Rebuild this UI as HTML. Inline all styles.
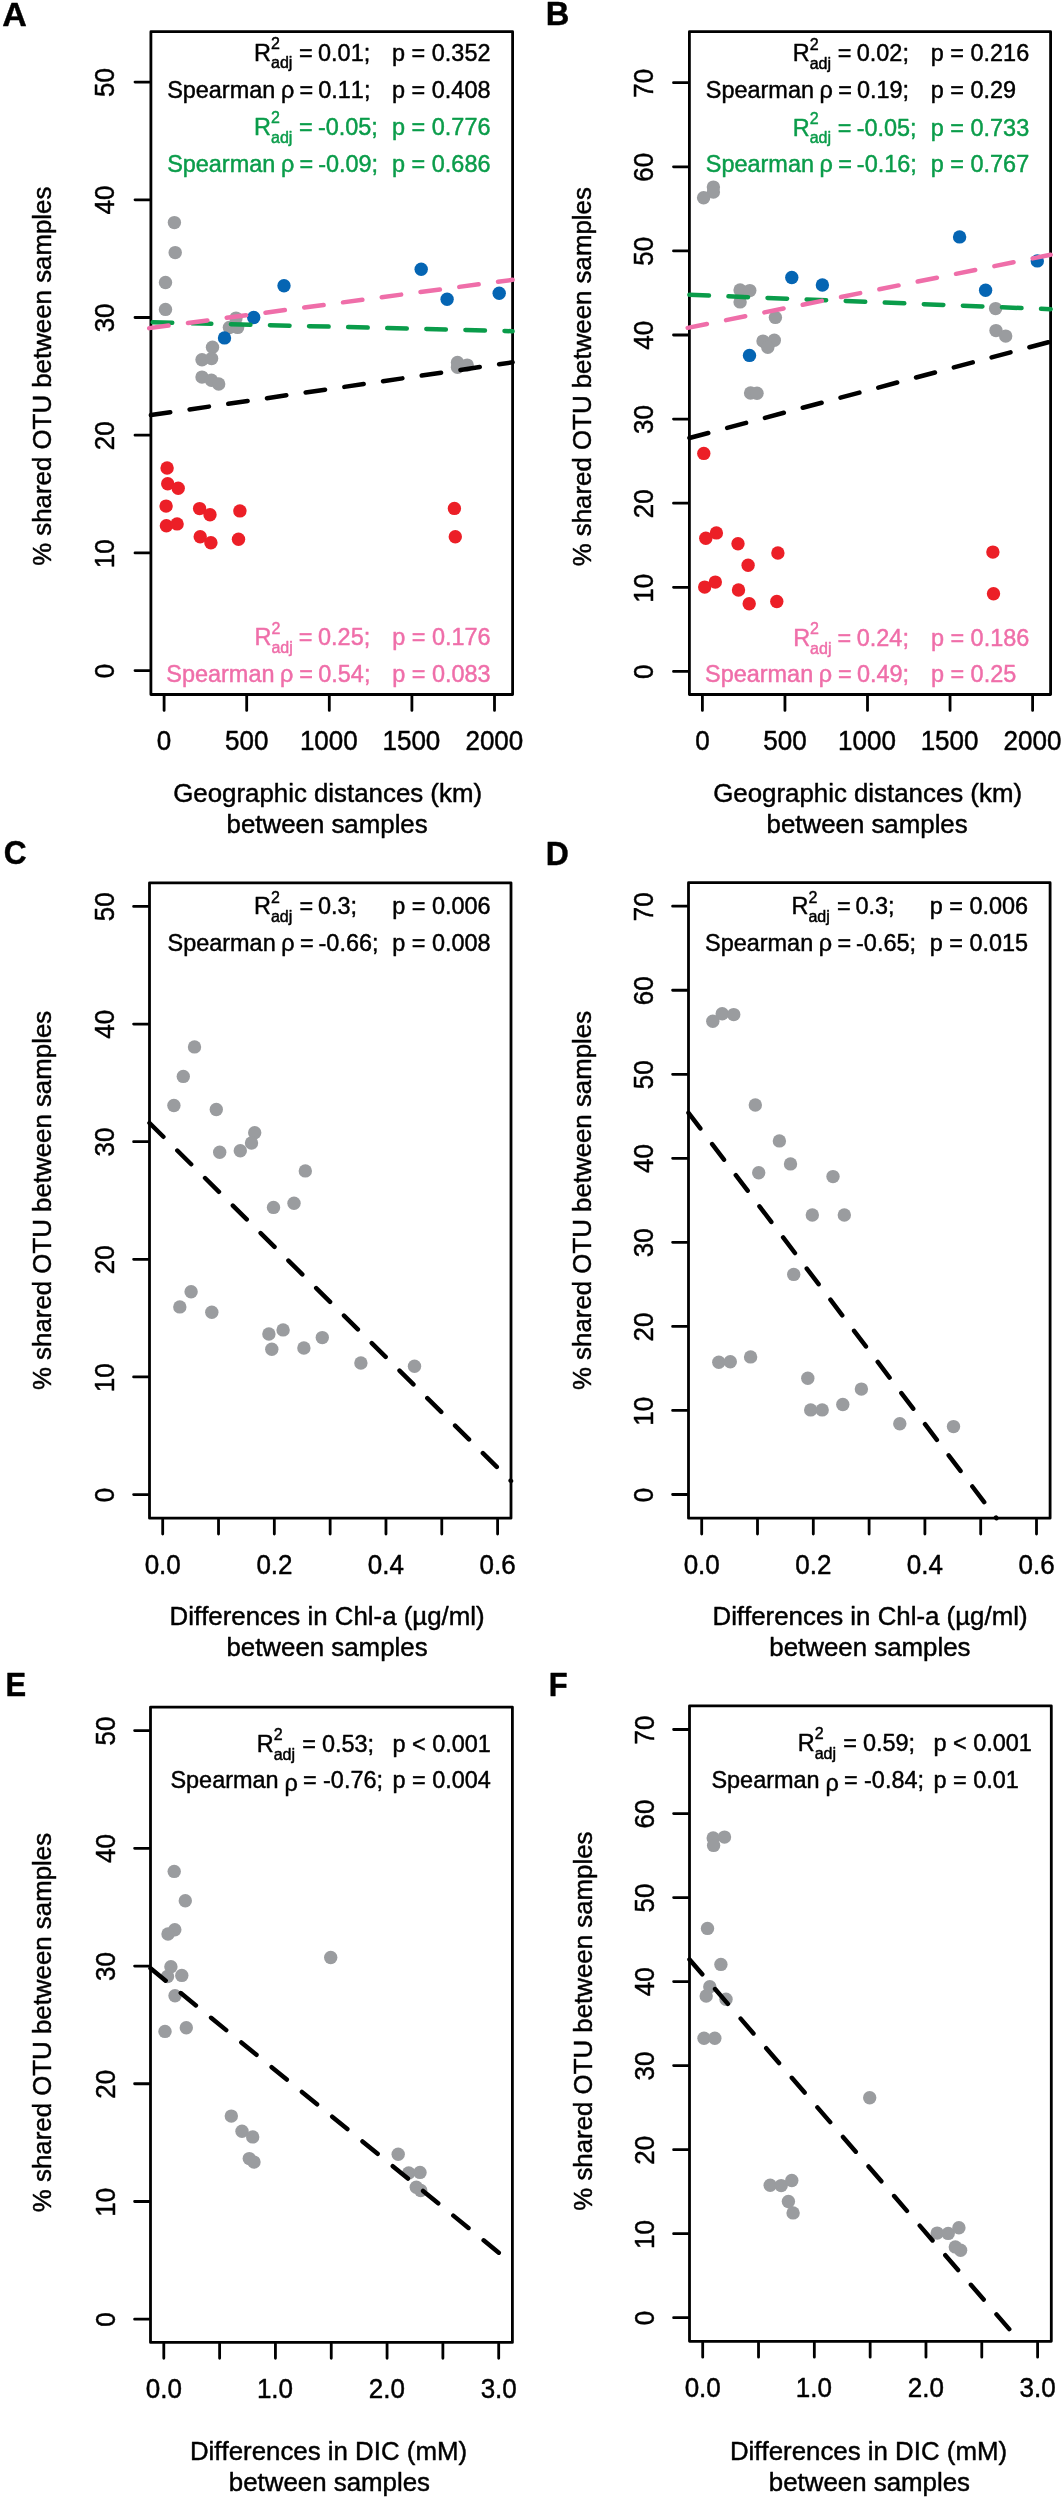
<!DOCTYPE html><html><head><meta charset="utf-8"><style>html,body{margin:0;padding:0;background:#fff;}svg{display:block;will-change:transform;} text{font-family:"Liberation Sans", sans-serif;font-kerning:none;stroke-width:0.45px;stroke-linejoin:round;}</style></head><body>
<svg width="1064" height="2500" viewBox="0 0 1064 2500">
<rect width="1064" height="2500" fill="#fff"/>
<rect x="150.9" y="31.7" width="361.7" height="662.8" fill="none" stroke="#000" stroke-width="2.8" stroke-linejoin="round"/>
<circle cx="174.4" cy="222.6" r="6.7" fill="#9a9c9f"/>
<circle cx="175.2" cy="252.6" r="6.7" fill="#9a9c9f"/>
<circle cx="165.5" cy="282.5" r="6.7" fill="#9a9c9f"/>
<circle cx="165.5" cy="309.4" r="6.7" fill="#9a9c9f"/>
<circle cx="236" cy="318.1" r="6.7" fill="#9a9c9f"/>
<circle cx="229.4" cy="327.5" r="6.7" fill="#9a9c9f"/>
<circle cx="237.6" cy="327.4" r="6.7" fill="#9a9c9f"/>
<circle cx="212.5" cy="347.3" r="6.7" fill="#9a9c9f"/>
<circle cx="202" cy="359.7" r="6.7" fill="#9a9c9f"/>
<circle cx="211.6" cy="358.6" r="6.7" fill="#9a9c9f"/>
<circle cx="202" cy="377.1" r="6.7" fill="#9a9c9f"/>
<circle cx="211.4" cy="380.2" r="6.7" fill="#9a9c9f"/>
<circle cx="218.7" cy="384" r="6.7" fill="#9a9c9f"/>
<circle cx="457.5" cy="362.5" r="6.7" fill="#9a9c9f"/>
<circle cx="457.5" cy="367.2" r="6.7" fill="#9a9c9f"/>
<circle cx="467.2" cy="365.1" r="6.7" fill="#9a9c9f"/>
<circle cx="224.5" cy="337.9" r="6.7" fill="#0565b3"/>
<circle cx="253.7" cy="317.5" r="6.7" fill="#0565b3"/>
<circle cx="284" cy="285.8" r="6.7" fill="#0565b3"/>
<circle cx="421.2" cy="269.3" r="6.7" fill="#0565b3"/>
<circle cx="447.1" cy="299.3" r="6.7" fill="#0565b3"/>
<circle cx="499.2" cy="293.2" r="6.7" fill="#0565b3"/>
<circle cx="167.1" cy="468" r="6.7" fill="#ec1f27"/>
<circle cx="167.7" cy="483.8" r="6.7" fill="#ec1f27"/>
<circle cx="178.2" cy="488.3" r="6.7" fill="#ec1f27"/>
<circle cx="166.1" cy="506.1" r="6.7" fill="#ec1f27"/>
<circle cx="166.4" cy="525.8" r="6.7" fill="#ec1f27"/>
<circle cx="177.1" cy="523.9" r="6.7" fill="#ec1f27"/>
<circle cx="199.6" cy="508.6" r="6.7" fill="#ec1f27"/>
<circle cx="210" cy="514.8" r="6.7" fill="#ec1f27"/>
<circle cx="239.9" cy="510.9" r="6.7" fill="#ec1f27"/>
<circle cx="200.2" cy="536.8" r="6.7" fill="#ec1f27"/>
<circle cx="210.9" cy="542.7" r="6.7" fill="#ec1f27"/>
<circle cx="238.5" cy="539.3" r="6.7" fill="#ec1f27"/>
<circle cx="454.4" cy="508.4" r="6.7" fill="#ec1f27"/>
<circle cx="455.3" cy="536.8" r="6.7" fill="#ec1f27"/>
<path d="M150.9 415.1L512.6 362.3" stroke="#000000" stroke-width="4.5" stroke-linecap="round" stroke-dasharray="19.55 19.55" fill="none"/>
<path d="M152.7 322.24L512.6 331.2" stroke="#0a9c4a" stroke-width="4.5" stroke-linecap="round" stroke-dasharray="19.55 19.55" fill="none"/>
<path d="M149.2 328.13L512.6 279.8" stroke="#ef6ea9" stroke-width="4.5" stroke-linecap="round" stroke-dasharray="19.55 19.55" fill="none"/>
<path d="M164.1 695.9V710.4M246.7 695.9V710.4M329.3 695.9V710.4M411.9 695.9V710.4M494.5 695.9V710.4" stroke="#000" stroke-width="2.8" stroke-linecap="round" fill="none"/>
<text transform="translate(156.87 750) scale(1 1.04)" font-size="26" fill="#000" stroke="#000">0</text>
<text transform="translate(225 750) scale(1 1.04)" font-size="26" fill="#000" stroke="#000">500</text>
<text transform="translate(299.9 750) scale(1 1.04)" font-size="26" fill="#000" stroke="#000">1000</text>
<text transform="translate(382.5 750) scale(1 1.04)" font-size="26" fill="#000" stroke="#000">1500</text>
<text transform="translate(465.43 750) scale(1 1.04)" font-size="26" fill="#000" stroke="#000">2000</text>
<path d="M149.5 670.6H135M149.5 552.9H135M149.5 435.2H135M149.5 317.5H135M149.5 199.8H135M149.5 82.1H135" stroke="#000" stroke-width="2.8" stroke-linecap="round" fill="none"/>
<text x="-7.23" y="0" transform="translate(114.4 671) rotate(-90) scale(1 1.04)" font-size="26" fill="#000" stroke="#000">0</text>
<text x="-14.94" y="0" transform="translate(114.4 553.3) rotate(-90) scale(1 1.04)" font-size="26" fill="#000" stroke="#000">10</text>
<text x="-14.61" y="0" transform="translate(114.4 435.6) rotate(-90) scale(1 1.04)" font-size="26" fill="#000" stroke="#000">20</text>
<text x="-14.45" y="0" transform="translate(114.4 317.9) rotate(-90) scale(1 1.04)" font-size="26" fill="#000" stroke="#000">30</text>
<text x="-14.25" y="0" transform="translate(114.4 200.2) rotate(-90) scale(1 1.04)" font-size="26" fill="#000" stroke="#000">40</text>
<text x="-14.47" y="0" transform="translate(114.4 82.5) rotate(-90) scale(1 1.04)" font-size="26" fill="#000" stroke="#000">50</text>
<text x="173.21" y="801.8" font-size="25.85" fill="#000" stroke="#000">Geographic distances (km)</text>
<text x="226.55" y="832.5" font-size="25.85" fill="#000" stroke="#000">between samples</text>
<text x="-138.35" y="376.2" font-size="25.85" fill="#000" stroke="#000" transform="rotate(-90 51.3 376.2)">% shared OTU between samples</text>
<text x="254.08" y="60.6" font-size="23.45" fill="#000000" stroke="#000000">R</text>
<text x="271" y="48.9" font-size="16" fill="#000000" stroke="#000000">2</text>
<text x="271" y="68.4" font-size="16" fill="#000000" stroke="#000000">adj</text>
<text x="299.05" y="60.6" font-size="23.45" fill="#000000" stroke="#000000">=</text>
<text x="318.08" y="60.6" font-size="23.45" fill="#000000" stroke="#000000">0.01;</text>
<text x="392.09" y="60.6" font-size="23.45" fill="#000000" stroke="#000000">p = 0.352</text>
<text x="167.14" y="97.5" font-size="23.45" fill="#000000" stroke="#000000">Spearman</text>
<text x="280.89" y="97.5" font-size="23.45" fill="#000000" stroke="#000000">ρ</text>
<text x="299.45" y="97.5" font-size="23.45" fill="#000000" stroke="#000000">=</text>
<text x="318.28" y="97.5" font-size="23.45" fill="#000000" stroke="#000000">0.11;</text>
<text x="392.09" y="97.5" font-size="23.45" fill="#000000" stroke="#000000">p = 0.408</text>
<text x="254.08" y="135" font-size="23.45" fill="#0a9c4a" stroke="#0a9c4a">R</text>
<text x="271" y="123.3" font-size="16" fill="#0a9c4a" stroke="#0a9c4a">2</text>
<text x="271" y="142.8" font-size="16" fill="#0a9c4a" stroke="#0a9c4a">adj</text>
<text x="299.05" y="135" font-size="23.45" fill="#0a9c4a" stroke="#0a9c4a">=</text>
<text x="317.96" y="135" font-size="23.45" fill="#0a9c4a" stroke="#0a9c4a">-0.05;</text>
<text x="392.09" y="135" font-size="23.45" fill="#0a9c4a" stroke="#0a9c4a">p = 0.776</text>
<text x="167.14" y="171.6" font-size="23.45" fill="#0a9c4a" stroke="#0a9c4a">Spearman</text>
<text x="280.89" y="171.6" font-size="23.45" fill="#0a9c4a" stroke="#0a9c4a">ρ</text>
<text x="299.45" y="171.6" font-size="23.45" fill="#0a9c4a" stroke="#0a9c4a">=</text>
<text x="318.16" y="171.6" font-size="23.45" fill="#0a9c4a" stroke="#0a9c4a">-0.09;</text>
<text x="392.09" y="171.6" font-size="23.45" fill="#0a9c4a" stroke="#0a9c4a">p = 0.686</text>
<text x="254.48" y="645.2" font-size="23.45" fill="#ef6ea9" stroke="#ef6ea9">R</text>
<text x="271.4" y="633.5" font-size="16" fill="#ef6ea9" stroke="#ef6ea9">2</text>
<text x="271.4" y="653" font-size="16" fill="#ef6ea9" stroke="#ef6ea9">adj</text>
<text x="298.85" y="645.2" font-size="23.45" fill="#ef6ea9" stroke="#ef6ea9">=</text>
<text x="318.08" y="645.2" font-size="23.45" fill="#ef6ea9" stroke="#ef6ea9">0.25;</text>
<text x="392.19" y="645.2" font-size="23.45" fill="#ef6ea9" stroke="#ef6ea9">p = 0.176</text>
<text x="166.34" y="681.8" font-size="23.45" fill="#ef6ea9" stroke="#ef6ea9">Spearman</text>
<text x="280.09" y="681.8" font-size="23.45" fill="#ef6ea9" stroke="#ef6ea9">ρ</text>
<text x="299.25" y="681.8" font-size="23.45" fill="#ef6ea9" stroke="#ef6ea9">=</text>
<text x="318.28" y="681.8" font-size="23.45" fill="#ef6ea9" stroke="#ef6ea9">0.54;</text>
<text x="392.19" y="681.8" font-size="23.45" fill="#ef6ea9" stroke="#ef6ea9">p = 0.083</text>
<text x="-0.85" y="0" transform="translate(3.1 25.9) scale(1 1)" font-size="34" font-weight="bold" fill="#000" stroke="#000">A</text>
<rect x="689.4" y="31.7" width="361.2" height="662.8" fill="none" stroke="#000" stroke-width="2.8" stroke-linejoin="round"/>
<circle cx="713.4" cy="187.1" r="6.7" fill="#9a9c9f"/>
<circle cx="713.4" cy="192.1" r="6.7" fill="#9a9c9f"/>
<circle cx="703.6" cy="197.8" r="6.7" fill="#9a9c9f"/>
<circle cx="740.1" cy="290" r="6.7" fill="#9a9c9f"/>
<circle cx="749.8" cy="290.6" r="6.7" fill="#9a9c9f"/>
<circle cx="740.1" cy="301.9" r="6.7" fill="#9a9c9f"/>
<circle cx="775.4" cy="317.4" r="6.7" fill="#9a9c9f"/>
<circle cx="763" cy="341.1" r="6.7" fill="#9a9c9f"/>
<circle cx="774.3" cy="340.2" r="6.7" fill="#9a9c9f"/>
<circle cx="767.8" cy="347.2" r="6.7" fill="#9a9c9f"/>
<circle cx="750.6" cy="393" r="6.7" fill="#9a9c9f"/>
<circle cx="757" cy="393.3" r="6.7" fill="#9a9c9f"/>
<circle cx="995.6" cy="308.6" r="6.7" fill="#9a9c9f"/>
<circle cx="996" cy="330.6" r="6.7" fill="#9a9c9f"/>
<circle cx="1005.7" cy="336.1" r="6.7" fill="#9a9c9f"/>
<circle cx="749.5" cy="355.4" r="6.7" fill="#0565b3"/>
<circle cx="791.8" cy="277.5" r="6.7" fill="#0565b3"/>
<circle cx="822.4" cy="285" r="6.7" fill="#0565b3"/>
<circle cx="959.6" cy="236.9" r="6.7" fill="#0565b3"/>
<circle cx="985.6" cy="290.3" r="6.7" fill="#0565b3"/>
<circle cx="1037.3" cy="260.9" r="6.7" fill="#0565b3"/>
<circle cx="703.8" cy="453.4" r="6.7" fill="#ec1f27"/>
<circle cx="705.8" cy="538.3" r="6.7" fill="#ec1f27"/>
<circle cx="716.4" cy="532.9" r="6.7" fill="#ec1f27"/>
<circle cx="738" cy="543.8" r="6.7" fill="#ec1f27"/>
<circle cx="777.9" cy="553" r="6.7" fill="#ec1f27"/>
<circle cx="748.1" cy="565.2" r="6.7" fill="#ec1f27"/>
<circle cx="704.7" cy="587.1" r="6.7" fill="#ec1f27"/>
<circle cx="715.3" cy="582.1" r="6.7" fill="#ec1f27"/>
<circle cx="738.5" cy="590" r="6.7" fill="#ec1f27"/>
<circle cx="749.2" cy="603.8" r="6.7" fill="#ec1f27"/>
<circle cx="776.8" cy="601.5" r="6.7" fill="#ec1f27"/>
<circle cx="992.9" cy="552.1" r="6.7" fill="#ec1f27"/>
<circle cx="993.5" cy="593.8" r="6.7" fill="#ec1f27"/>
<path d="M689.4 438L1050.6 341.6" stroke="#000000" stroke-width="4.5" stroke-linecap="round" stroke-dasharray="19.55 19.55" fill="none"/>
<path d="M689.4 294.8L1050.6 309.2" stroke="#0a9c4a" stroke-width="4.5" stroke-linecap="round" stroke-dasharray="19.55 19.55" fill="none"/>
<path d="M687.7 327.84L1050.6 254.8" stroke="#ef6ea9" stroke-width="4.5" stroke-linecap="round" stroke-dasharray="19.55 19.55" fill="none"/>
<path d="M702.4 695.9V710.4M784.95 695.9V710.4M867.5 695.9V710.4M950.05 695.9V710.4M1032.6 695.9V710.4" stroke="#000" stroke-width="2.8" stroke-linecap="round" fill="none"/>
<text transform="translate(695.17 750) scale(1 1.04)" font-size="26" fill="#000" stroke="#000">0</text>
<text transform="translate(763.25 750) scale(1 1.04)" font-size="26" fill="#000" stroke="#000">500</text>
<text transform="translate(838.1 750) scale(1 1.04)" font-size="26" fill="#000" stroke="#000">1000</text>
<text transform="translate(920.65 750) scale(1 1.04)" font-size="26" fill="#000" stroke="#000">1500</text>
<text transform="translate(1003.53 750) scale(1 1.04)" font-size="26" fill="#000" stroke="#000">2000</text>
<path d="M688 671.4H673.5M688 587.3H673.5M688 503.2H673.5M688 419.1H673.5M688 335H673.5M688 250.9H673.5M688 166.8H673.5M688 82.7H673.5" stroke="#000" stroke-width="2.8" stroke-linecap="round" fill="none"/>
<text x="-7.23" y="0" transform="translate(653.1 671.8) rotate(-90) scale(1 1.04)" font-size="26" fill="#000" stroke="#000">0</text>
<text x="-14.94" y="0" transform="translate(653.1 587.7) rotate(-90) scale(1 1.04)" font-size="26" fill="#000" stroke="#000">10</text>
<text x="-14.61" y="0" transform="translate(653.1 503.6) rotate(-90) scale(1 1.04)" font-size="26" fill="#000" stroke="#000">20</text>
<text x="-14.45" y="0" transform="translate(653.1 419.5) rotate(-90) scale(1 1.04)" font-size="26" fill="#000" stroke="#000">30</text>
<text x="-14.25" y="0" transform="translate(653.1 335.4) rotate(-90) scale(1 1.04)" font-size="26" fill="#000" stroke="#000">40</text>
<text x="-14.47" y="0" transform="translate(653.1 251.3) rotate(-90) scale(1 1.04)" font-size="26" fill="#000" stroke="#000">50</text>
<text x="-14.61" y="0" transform="translate(653.1 167.2) rotate(-90) scale(1 1.04)" font-size="26" fill="#000" stroke="#000">60</text>
<text x="-14.62" y="0" transform="translate(653.1 83.1) rotate(-90) scale(1 1.04)" font-size="26" fill="#000" stroke="#000">70</text>
<text x="713.21" y="801.8" font-size="25.85" fill="#000" stroke="#000">Geographic distances (km)</text>
<text x="766.55" y="832.5" font-size="25.85" fill="#000" stroke="#000">between samples</text>
<text x="401.65" y="376.7" font-size="25.85" fill="#000" stroke="#000" transform="rotate(-90 591.3 376.7)">% shared OTU between samples</text>
<text x="792.78" y="61.2" font-size="23.45" fill="#000000" stroke="#000000">R</text>
<text x="809.7" y="49.5" font-size="16" fill="#000000" stroke="#000000">2</text>
<text x="809.7" y="69" font-size="16" fill="#000000" stroke="#000000">adj</text>
<text x="837.75" y="61.2" font-size="23.45" fill="#000000" stroke="#000000">=</text>
<text x="856.78" y="61.2" font-size="23.45" fill="#000000" stroke="#000000">0.02;</text>
<text x="930.79" y="61.2" font-size="23.45" fill="#000000" stroke="#000000">p = 0.216</text>
<text x="705.84" y="98.1" font-size="23.45" fill="#000000" stroke="#000000">Spearman</text>
<text x="819.59" y="98.1" font-size="23.45" fill="#000000" stroke="#000000">ρ</text>
<text x="838.15" y="98.1" font-size="23.45" fill="#000000" stroke="#000000">=</text>
<text x="856.98" y="98.1" font-size="23.45" fill="#000000" stroke="#000000">0.19;</text>
<text x="930.79" y="98.1" font-size="23.45" fill="#000000" stroke="#000000">p = 0.29</text>
<text x="792.78" y="135.6" font-size="23.45" fill="#0a9c4a" stroke="#0a9c4a">R</text>
<text x="809.7" y="123.9" font-size="16" fill="#0a9c4a" stroke="#0a9c4a">2</text>
<text x="809.7" y="143.4" font-size="16" fill="#0a9c4a" stroke="#0a9c4a">adj</text>
<text x="837.75" y="135.6" font-size="23.45" fill="#0a9c4a" stroke="#0a9c4a">=</text>
<text x="856.66" y="135.6" font-size="23.45" fill="#0a9c4a" stroke="#0a9c4a">-0.05;</text>
<text x="930.79" y="135.6" font-size="23.45" fill="#0a9c4a" stroke="#0a9c4a">p = 0.733</text>
<text x="705.84" y="172.2" font-size="23.45" fill="#0a9c4a" stroke="#0a9c4a">Spearman</text>
<text x="819.59" y="172.2" font-size="23.45" fill="#0a9c4a" stroke="#0a9c4a">ρ</text>
<text x="838.15" y="172.2" font-size="23.45" fill="#0a9c4a" stroke="#0a9c4a">=</text>
<text x="856.86" y="172.2" font-size="23.45" fill="#0a9c4a" stroke="#0a9c4a">-0.16;</text>
<text x="930.79" y="172.2" font-size="23.45" fill="#0a9c4a" stroke="#0a9c4a">p = 0.767</text>
<text x="793.18" y="645.8" font-size="23.45" fill="#ef6ea9" stroke="#ef6ea9">R</text>
<text x="810.1" y="634.1" font-size="16" fill="#ef6ea9" stroke="#ef6ea9">2</text>
<text x="810.1" y="653.6" font-size="16" fill="#ef6ea9" stroke="#ef6ea9">adj</text>
<text x="837.55" y="645.8" font-size="23.45" fill="#ef6ea9" stroke="#ef6ea9">=</text>
<text x="856.78" y="645.8" font-size="23.45" fill="#ef6ea9" stroke="#ef6ea9">0.24;</text>
<text x="930.89" y="645.8" font-size="23.45" fill="#ef6ea9" stroke="#ef6ea9">p = 0.186</text>
<text x="705.04" y="682.4" font-size="23.45" fill="#ef6ea9" stroke="#ef6ea9">Spearman</text>
<text x="818.79" y="682.4" font-size="23.45" fill="#ef6ea9" stroke="#ef6ea9">ρ</text>
<text x="837.95" y="682.4" font-size="23.45" fill="#ef6ea9" stroke="#ef6ea9">=</text>
<text x="856.98" y="682.4" font-size="23.45" fill="#ef6ea9" stroke="#ef6ea9">0.49;</text>
<text x="930.89" y="682.4" font-size="23.45" fill="#ef6ea9" stroke="#ef6ea9">p = 0.25</text>
<text x="-2.27" y="0" transform="translate(548 25.4) scale(0.96 1)" font-size="34" font-weight="bold" fill="#000" stroke="#000">B</text>
<rect x="149.5" y="882.8" width="361.5" height="635.4" fill="none" stroke="#000" stroke-width="2.8" stroke-linejoin="round"/>
<circle cx="194.5" cy="1046.9" r="6.7" fill="#9a9c9f"/>
<circle cx="183.3" cy="1076.4" r="6.7" fill="#9a9c9f"/>
<circle cx="173.9" cy="1105.5" r="6.7" fill="#9a9c9f"/>
<circle cx="216.3" cy="1109.5" r="6.7" fill="#9a9c9f"/>
<circle cx="254.7" cy="1132.7" r="6.7" fill="#9a9c9f"/>
<circle cx="251.5" cy="1143" r="6.7" fill="#9a9c9f"/>
<circle cx="219.7" cy="1152.3" r="6.7" fill="#9a9c9f"/>
<circle cx="240.3" cy="1150.8" r="6.7" fill="#9a9c9f"/>
<circle cx="305.3" cy="1170.9" r="6.7" fill="#9a9c9f"/>
<circle cx="273.5" cy="1207.4" r="6.7" fill="#9a9c9f"/>
<circle cx="294" cy="1203.3" r="6.7" fill="#9a9c9f"/>
<circle cx="191.1" cy="1291.7" r="6.7" fill="#9a9c9f"/>
<circle cx="179.8" cy="1306.9" r="6.7" fill="#9a9c9f"/>
<circle cx="211.8" cy="1312.3" r="6.7" fill="#9a9c9f"/>
<circle cx="268.9" cy="1334" r="6.7" fill="#9a9c9f"/>
<circle cx="283.1" cy="1329.9" r="6.7" fill="#9a9c9f"/>
<circle cx="271.8" cy="1349.2" r="6.7" fill="#9a9c9f"/>
<circle cx="303.9" cy="1348" r="6.7" fill="#9a9c9f"/>
<circle cx="322.3" cy="1337.6" r="6.7" fill="#9a9c9f"/>
<circle cx="360.9" cy="1363" r="6.7" fill="#9a9c9f"/>
<circle cx="414.5" cy="1366.2" r="6.7" fill="#9a9c9f"/>
<path d="M149.5 1123L511 1481" stroke="#000000" stroke-width="4.5" stroke-linecap="round" stroke-dasharray="19.55 19.55" fill="none"/>
<path d="M162.7 1519.6V1534.1M218.52 1519.6V1534.1M274.33 1519.6V1534.1M330.15 1519.6V1534.1M385.97 1519.6V1534.1M441.78 1519.6V1534.1M497.6 1519.6V1534.1" stroke="#000" stroke-width="2.8" stroke-linecap="round" fill="none"/>
<text transform="translate(144.63 1573.7) scale(1 1.04)" font-size="26" fill="#000" stroke="#000">0.0</text>
<text transform="translate(256.41 1573.7) scale(1 1.04)" font-size="26" fill="#000" stroke="#000">0.2</text>
<text transform="translate(367.77 1573.7) scale(1 1.04)" font-size="26" fill="#000" stroke="#000">0.4</text>
<text transform="translate(479.59 1573.7) scale(1 1.04)" font-size="26" fill="#000" stroke="#000">0.6</text>
<path d="M148.1 1494.6H133.6M148.1 1376.96H133.6M148.1 1259.32H133.6M148.1 1141.68H133.6M148.1 1024.04H133.6M148.1 906.4H133.6" stroke="#000" stroke-width="2.8" stroke-linecap="round" fill="none"/>
<text x="-7.23" y="0" transform="translate(113.5 1495) rotate(-90) scale(1 1.04)" font-size="26" fill="#000" stroke="#000">0</text>
<text x="-14.94" y="0" transform="translate(113.5 1377.36) rotate(-90) scale(1 1.04)" font-size="26" fill="#000" stroke="#000">10</text>
<text x="-14.61" y="0" transform="translate(113.5 1259.72) rotate(-90) scale(1 1.04)" font-size="26" fill="#000" stroke="#000">20</text>
<text x="-14.45" y="0" transform="translate(113.5 1142.08) rotate(-90) scale(1 1.04)" font-size="26" fill="#000" stroke="#000">30</text>
<text x="-14.25" y="0" transform="translate(113.5 1024.44) rotate(-90) scale(1 1.04)" font-size="26" fill="#000" stroke="#000">40</text>
<text x="-14.47" y="0" transform="translate(113.5 906.8) rotate(-90) scale(1 1.04)" font-size="26" fill="#000" stroke="#000">50</text>
<text x="169.58" y="1625.2" font-size="25.85" fill="#000" stroke="#000">Differences in Chl-a (µg/ml)</text>
<text x="226.45" y="1655.5" font-size="25.85" fill="#000" stroke="#000">between samples</text>
<text x="-138.35" y="1200.4" font-size="25.85" fill="#000" stroke="#000" transform="rotate(-90 51.3 1200.4)">% shared OTU between samples</text>
<text x="253.98" y="914.2" font-size="23.45" fill="#000000" stroke="#000000">R</text>
<text x="270.9" y="902.5" font-size="16" fill="#000000" stroke="#000000">2</text>
<text x="270.9" y="922" font-size="16" fill="#000000" stroke="#000000">adj</text>
<text x="299.45" y="914.2" font-size="23.45" fill="#000000" stroke="#000000">=</text>
<text x="317.88" y="914.2" font-size="23.45" fill="#000000" stroke="#000000">0.3;</text>
<text x="392.19" y="914.2" font-size="23.45" fill="#000000" stroke="#000000">p = 0.006</text>
<text x="167.54" y="950.6" font-size="23.45" fill="#000000" stroke="#000000">Spearman</text>
<text x="281.29" y="950.6" font-size="23.45" fill="#000000" stroke="#000000">ρ</text>
<text x="300.05" y="950.6" font-size="23.45" fill="#000000" stroke="#000000">=</text>
<text x="318.56" y="950.6" font-size="23.45" fill="#000000" stroke="#000000">-0.66;</text>
<text x="392.19" y="950.6" font-size="23.45" fill="#000000" stroke="#000000">p = 0.008</text>
<text x="-1.39" y="0" transform="translate(5.1 864.4) scale(0.93 1)" font-size="34" font-weight="bold" fill="#000" stroke="#000">C</text>
<rect x="688.5" y="882.7" width="361.6" height="635.5" fill="none" stroke="#000" stroke-width="2.8" stroke-linejoin="round"/>
<circle cx="712.8" cy="1021.2" r="6.7" fill="#9a9c9f"/>
<circle cx="722.2" cy="1013.7" r="6.7" fill="#9a9c9f"/>
<circle cx="733.7" cy="1014.6" r="6.7" fill="#9a9c9f"/>
<circle cx="755.3" cy="1105" r="6.7" fill="#9a9c9f"/>
<circle cx="779.4" cy="1140.9" r="6.7" fill="#9a9c9f"/>
<circle cx="790.5" cy="1163.9" r="6.7" fill="#9a9c9f"/>
<circle cx="758.7" cy="1172.7" r="6.7" fill="#9a9c9f"/>
<circle cx="833" cy="1176.6" r="6.7" fill="#9a9c9f"/>
<circle cx="812.3" cy="1215" r="6.7" fill="#9a9c9f"/>
<circle cx="844.3" cy="1215" r="6.7" fill="#9a9c9f"/>
<circle cx="793.7" cy="1274.4" r="6.7" fill="#9a9c9f"/>
<circle cx="718.8" cy="1362.2" r="6.7" fill="#9a9c9f"/>
<circle cx="730.3" cy="1361.7" r="6.7" fill="#9a9c9f"/>
<circle cx="750.6" cy="1356.9" r="6.7" fill="#9a9c9f"/>
<circle cx="807.8" cy="1378.2" r="6.7" fill="#9a9c9f"/>
<circle cx="810.7" cy="1409.9" r="6.7" fill="#9a9c9f"/>
<circle cx="822.2" cy="1409.9" r="6.7" fill="#9a9c9f"/>
<circle cx="842.8" cy="1404.5" r="6.7" fill="#9a9c9f"/>
<circle cx="861.4" cy="1389.1" r="6.7" fill="#9a9c9f"/>
<circle cx="899.8" cy="1423.7" r="6.7" fill="#9a9c9f"/>
<circle cx="953.5" cy="1426.6" r="6.7" fill="#9a9c9f"/>
<path d="M688.5 1112.9L996.43 1518.2" stroke="#000000" stroke-width="4.5" stroke-linecap="round" stroke-dasharray="19.55 19.55" fill="none"/>
<path d="M701.7 1519.6V1534.1M757.5 1519.6V1534.1M813.3 1519.6V1534.1M869.1 1519.6V1534.1M924.9 1519.6V1534.1M980.7 1519.6V1534.1M1036.5 1519.6V1534.1" stroke="#000" stroke-width="2.8" stroke-linecap="round" fill="none"/>
<text transform="translate(683.63 1573.7) scale(1 1.04)" font-size="26" fill="#000" stroke="#000">0.0</text>
<text transform="translate(795.37 1573.7) scale(1 1.04)" font-size="26" fill="#000" stroke="#000">0.2</text>
<text transform="translate(906.7 1573.7) scale(1 1.04)" font-size="26" fill="#000" stroke="#000">0.4</text>
<text transform="translate(1018.49 1573.7) scale(1 1.04)" font-size="26" fill="#000" stroke="#000">0.6</text>
<path d="M687.1 1494.5H672.6M687.1 1410.46H672.6M687.1 1326.41H672.6M687.1 1242.37H672.6M687.1 1158.33H672.6M687.1 1074.29H672.6M687.1 990.24H672.6M687.1 906.2H672.6" stroke="#000" stroke-width="2.8" stroke-linecap="round" fill="none"/>
<text x="-7.23" y="0" transform="translate(652.5 1494.9) rotate(-90) scale(1 1.04)" font-size="26" fill="#000" stroke="#000">0</text>
<text x="-14.94" y="0" transform="translate(652.5 1410.86) rotate(-90) scale(1 1.04)" font-size="26" fill="#000" stroke="#000">10</text>
<text x="-14.61" y="0" transform="translate(652.5 1326.81) rotate(-90) scale(1 1.04)" font-size="26" fill="#000" stroke="#000">20</text>
<text x="-14.45" y="0" transform="translate(652.5 1242.77) rotate(-90) scale(1 1.04)" font-size="26" fill="#000" stroke="#000">30</text>
<text x="-14.25" y="0" transform="translate(652.5 1158.73) rotate(-90) scale(1 1.04)" font-size="26" fill="#000" stroke="#000">40</text>
<text x="-14.47" y="0" transform="translate(652.5 1074.69) rotate(-90) scale(1 1.04)" font-size="26" fill="#000" stroke="#000">50</text>
<text x="-14.61" y="0" transform="translate(652.5 990.64) rotate(-90) scale(1 1.04)" font-size="26" fill="#000" stroke="#000">60</text>
<text x="-14.62" y="0" transform="translate(652.5 906.6) rotate(-90) scale(1 1.04)" font-size="26" fill="#000" stroke="#000">70</text>
<text x="712.48" y="1625.2" font-size="25.85" fill="#000" stroke="#000">Differences in Chl-a (µg/ml)</text>
<text x="769.35" y="1655.5" font-size="25.85" fill="#000" stroke="#000">between samples</text>
<text x="401.85" y="1200.4" font-size="25.85" fill="#000" stroke="#000" transform="rotate(-90 591.5 1200.4)">% shared OTU between samples</text>
<text x="791.48" y="914.2" font-size="23.45" fill="#000000" stroke="#000000">R</text>
<text x="808.4" y="902.5" font-size="16" fill="#000000" stroke="#000000">2</text>
<text x="808.4" y="922" font-size="16" fill="#000000" stroke="#000000">adj</text>
<text x="836.95" y="914.2" font-size="23.45" fill="#000000" stroke="#000000">=</text>
<text x="855.38" y="914.2" font-size="23.45" fill="#000000" stroke="#000000">0.3;</text>
<text x="929.69" y="914.2" font-size="23.45" fill="#000000" stroke="#000000">p = 0.006</text>
<text x="705.04" y="950.6" font-size="23.45" fill="#000000" stroke="#000000">Spearman</text>
<text x="818.79" y="950.6" font-size="23.45" fill="#000000" stroke="#000000">ρ</text>
<text x="837.55" y="950.6" font-size="23.45" fill="#000000" stroke="#000000">=</text>
<text x="856.06" y="950.6" font-size="23.45" fill="#000000" stroke="#000000">-0.65;</text>
<text x="929.69" y="950.6" font-size="23.45" fill="#000000" stroke="#000000">p = 0.015</text>
<text x="-2.27" y="0" transform="translate(547.9 864.5) scale(0.94 1)" font-size="34" font-weight="bold" fill="#000" stroke="#000">D</text>
<rect x="150.5" y="1707.1" width="361.9" height="635.3" fill="none" stroke="#000" stroke-width="2.8" stroke-linejoin="round"/>
<circle cx="174.2" cy="1871.4" r="6.7" fill="#9a9c9f"/>
<circle cx="185.3" cy="1900.8" r="6.7" fill="#9a9c9f"/>
<circle cx="174.8" cy="1929.8" r="6.7" fill="#9a9c9f"/>
<circle cx="168" cy="1934" r="6.7" fill="#9a9c9f"/>
<circle cx="170.9" cy="1966.8" r="6.7" fill="#9a9c9f"/>
<circle cx="167.5" cy="1976.5" r="6.7" fill="#9a9c9f"/>
<circle cx="181.8" cy="1975.4" r="6.7" fill="#9a9c9f"/>
<circle cx="175" cy="1995.7" r="6.7" fill="#9a9c9f"/>
<circle cx="165" cy="2031.4" r="6.7" fill="#9a9c9f"/>
<circle cx="186.3" cy="2027.8" r="6.7" fill="#9a9c9f"/>
<circle cx="330.7" cy="1957.5" r="6.7" fill="#9a9c9f"/>
<circle cx="231.3" cy="2116.1" r="6.7" fill="#9a9c9f"/>
<circle cx="242" cy="2131.2" r="6.7" fill="#9a9c9f"/>
<circle cx="252.7" cy="2136.9" r="6.7" fill="#9a9c9f"/>
<circle cx="249.3" cy="2158.6" r="6.7" fill="#9a9c9f"/>
<circle cx="254" cy="2162.1" r="6.7" fill="#9a9c9f"/>
<circle cx="398.2" cy="2154.3" r="6.7" fill="#9a9c9f"/>
<circle cx="408.7" cy="2172.9" r="6.7" fill="#9a9c9f"/>
<circle cx="420" cy="2172.4" r="6.7" fill="#9a9c9f"/>
<circle cx="416.3" cy="2187.2" r="6.7" fill="#9a9c9f"/>
<circle cx="420.7" cy="2190.5" r="6.7" fill="#9a9c9f"/>
<path d="M150.5 1968.3L512.4 2263.86" stroke="#000000" stroke-width="4.5" stroke-linecap="round" stroke-dasharray="19.55 19.55" fill="none"/>
<path d="M163.8 2343.8V2358.3M219.62 2343.8V2358.3M275.43 2343.8V2358.3M331.25 2343.8V2358.3M387.07 2343.8V2358.3M442.88 2343.8V2358.3M498.7 2343.8V2358.3" stroke="#000" stroke-width="2.8" stroke-linecap="round" fill="none"/>
<text transform="translate(145.73 2397.9) scale(1 1.04)" font-size="26" fill="#000" stroke="#000">0.0</text>
<text transform="translate(256.88 2397.9) scale(1 1.04)" font-size="26" fill="#000" stroke="#000">1.0</text>
<text transform="translate(368.85 2397.9) scale(1 1.04)" font-size="26" fill="#000" stroke="#000">2.0</text>
<text transform="translate(480.64 2397.9) scale(1 1.04)" font-size="26" fill="#000" stroke="#000">3.0</text>
<path d="M149.1 2319.2H134.6M149.1 2201.48H134.6M149.1 2083.76H134.6M149.1 1966.04H134.6M149.1 1848.32H134.6M149.1 1730.6H134.6" stroke="#000" stroke-width="2.8" stroke-linecap="round" fill="none"/>
<text x="-7.23" y="0" transform="translate(114.5 2319.6) rotate(-90) scale(1 1.04)" font-size="26" fill="#000" stroke="#000">0</text>
<text x="-14.94" y="0" transform="translate(114.5 2201.88) rotate(-90) scale(1 1.04)" font-size="26" fill="#000" stroke="#000">10</text>
<text x="-14.61" y="0" transform="translate(114.5 2084.16) rotate(-90) scale(1 1.04)" font-size="26" fill="#000" stroke="#000">20</text>
<text x="-14.45" y="0" transform="translate(114.5 1966.44) rotate(-90) scale(1 1.04)" font-size="26" fill="#000" stroke="#000">30</text>
<text x="-14.25" y="0" transform="translate(114.5 1848.72) rotate(-90) scale(1 1.04)" font-size="26" fill="#000" stroke="#000">40</text>
<text x="-14.47" y="0" transform="translate(114.5 1731) rotate(-90) scale(1 1.04)" font-size="26" fill="#000" stroke="#000">50</text>
<text x="189.94" y="2459.8" font-size="25.85" fill="#000" stroke="#000">Differences in DIC (mM)</text>
<text x="228.85" y="2490.7" font-size="25.85" fill="#000" stroke="#000">between samples</text>
<text x="-138.35" y="2022.5" font-size="25.85" fill="#000" stroke="#000" transform="rotate(-90 51.3 2022.5)">% shared OTU between samples</text>
<text x="256.78" y="1752" font-size="23.45" fill="#000000" stroke="#000000">R</text>
<text x="273.7" y="1740.3" font-size="16" fill="#000000" stroke="#000000">2</text>
<text x="273.7" y="1759.8" font-size="16" fill="#000000" stroke="#000000">adj</text>
<text x="302.25" y="1752" font-size="23.45" fill="#000000" stroke="#000000">=</text>
<text x="321.98" y="1752" font-size="23.45" fill="#000000" stroke="#000000">0.53;</text>
<text x="392.49" y="1752" font-size="23.45" fill="#000000" stroke="#000000">p &lt; 0.001</text>
<text x="170.44" y="1788.4" font-size="23.45" fill="#000000" stroke="#000000">Spearman</text>
<text x="284.39" y="1791" font-size="23.45" fill="#000000" stroke="#000000">ρ</text>
<text x="302.95" y="1788.4" font-size="23.45" fill="#000000" stroke="#000000">=</text>
<text x="323.06" y="1788.4" font-size="23.45" fill="#000000" stroke="#000000">-0.76;</text>
<text x="392.49" y="1788.4" font-size="23.45" fill="#000000" stroke="#000000">p = 0.004</text>
<text x="-2.27" y="0" transform="translate(7.6 1695.5) scale(0.91 1)" font-size="34" font-weight="bold" fill="#000" stroke="#000">E</text>
<rect x="689.5" y="1705.8" width="361.8" height="635.5" fill="none" stroke="#000" stroke-width="2.8" stroke-linejoin="round"/>
<circle cx="713.2" cy="1837.9" r="6.7" fill="#9a9c9f"/>
<circle cx="724.5" cy="1837.1" r="6.7" fill="#9a9c9f"/>
<circle cx="713.6" cy="1845.4" r="6.7" fill="#9a9c9f"/>
<circle cx="707.5" cy="1928.4" r="6.7" fill="#9a9c9f"/>
<circle cx="720.9" cy="1964.4" r="6.7" fill="#9a9c9f"/>
<circle cx="709.8" cy="1986.7" r="6.7" fill="#9a9c9f"/>
<circle cx="706.2" cy="1996" r="6.7" fill="#9a9c9f"/>
<circle cx="726" cy="1999.2" r="6.7" fill="#9a9c9f"/>
<circle cx="704" cy="2038.3" r="6.7" fill="#9a9c9f"/>
<circle cx="714.8" cy="2038.3" r="6.7" fill="#9a9c9f"/>
<circle cx="869.7" cy="2097.7" r="6.7" fill="#9a9c9f"/>
<circle cx="770.2" cy="2185.2" r="6.7" fill="#9a9c9f"/>
<circle cx="781.2" cy="2185.6" r="6.7" fill="#9a9c9f"/>
<circle cx="791.8" cy="2180.5" r="6.7" fill="#9a9c9f"/>
<circle cx="788.4" cy="2201.5" r="6.7" fill="#9a9c9f"/>
<circle cx="793.1" cy="2212.9" r="6.7" fill="#9a9c9f"/>
<circle cx="937.2" cy="2233.1" r="6.7" fill="#9a9c9f"/>
<circle cx="948.2" cy="2233.4" r="6.7" fill="#9a9c9f"/>
<circle cx="958.9" cy="2227.8" r="6.7" fill="#9a9c9f"/>
<circle cx="955.3" cy="2246.9" r="6.7" fill="#9a9c9f"/>
<circle cx="960.6" cy="2250.3" r="6.7" fill="#9a9c9f"/>
<path d="M689.5 1959.5L1019.78 2341.3" stroke="#000000" stroke-width="4.5" stroke-linecap="round" stroke-dasharray="19.55 19.55" fill="none"/>
<path d="M702.7 2342.7V2357.2M758.52 2342.7V2357.2M814.33 2342.7V2357.2M870.15 2342.7V2357.2M925.97 2342.7V2357.2M981.78 2342.7V2357.2M1037.6 2342.7V2357.2" stroke="#000" stroke-width="2.8" stroke-linecap="round" fill="none"/>
<text transform="translate(684.63 2396.8) scale(1 1.04)" font-size="26" fill="#000" stroke="#000">0.0</text>
<text transform="translate(795.78 2396.8) scale(1 1.04)" font-size="26" fill="#000" stroke="#000">1.0</text>
<text transform="translate(907.75 2396.8) scale(1 1.04)" font-size="26" fill="#000" stroke="#000">2.0</text>
<text transform="translate(1019.54 2396.8) scale(1 1.04)" font-size="26" fill="#000" stroke="#000">3.0</text>
<path d="M688.1 2317.7H673.6M688.1 2233.67H673.6M688.1 2149.64H673.6M688.1 2065.61H673.6M688.1 1981.59H673.6M688.1 1897.56H673.6M688.1 1813.53H673.6M688.1 1729.5H673.6" stroke="#000" stroke-width="2.8" stroke-linecap="round" fill="none"/>
<text x="-7.23" y="0" transform="translate(653.5 2318.1) rotate(-90) scale(1 1.04)" font-size="26" fill="#000" stroke="#000">0</text>
<text x="-14.94" y="0" transform="translate(653.5 2234.07) rotate(-90) scale(1 1.04)" font-size="26" fill="#000" stroke="#000">10</text>
<text x="-14.61" y="0" transform="translate(653.5 2150.04) rotate(-90) scale(1 1.04)" font-size="26" fill="#000" stroke="#000">20</text>
<text x="-14.45" y="0" transform="translate(653.5 2066.01) rotate(-90) scale(1 1.04)" font-size="26" fill="#000" stroke="#000">30</text>
<text x="-14.25" y="0" transform="translate(653.5 1981.99) rotate(-90) scale(1 1.04)" font-size="26" fill="#000" stroke="#000">40</text>
<text x="-14.47" y="0" transform="translate(653.5 1897.96) rotate(-90) scale(1 1.04)" font-size="26" fill="#000" stroke="#000">50</text>
<text x="-14.61" y="0" transform="translate(653.5 1813.93) rotate(-90) scale(1 1.04)" font-size="26" fill="#000" stroke="#000">60</text>
<text x="-14.62" y="0" transform="translate(653.5 1729.9) rotate(-90) scale(1 1.04)" font-size="26" fill="#000" stroke="#000">70</text>
<text x="729.94" y="2459.8" font-size="25.85" fill="#000" stroke="#000">Differences in DIC (mM)</text>
<text x="768.85" y="2490.7" font-size="25.85" fill="#000" stroke="#000">between samples</text>
<text x="402.15" y="2021.1" font-size="25.85" fill="#000" stroke="#000" transform="rotate(-90 591.8 2021.1)">% shared OTU between samples</text>
<text x="797.78" y="1750.8" font-size="23.45" fill="#000000" stroke="#000000">R</text>
<text x="814.7" y="1739.1" font-size="16" fill="#000000" stroke="#000000">2</text>
<text x="814.7" y="1758.6" font-size="16" fill="#000000" stroke="#000000">adj</text>
<text x="843.25" y="1750.8" font-size="23.45" fill="#000000" stroke="#000000">=</text>
<text x="862.98" y="1750.8" font-size="23.45" fill="#000000" stroke="#000000">0.59;</text>
<text x="933.49" y="1750.8" font-size="23.45" fill="#000000" stroke="#000000">p &lt; 0.001</text>
<text x="711.44" y="1788.3" font-size="23.45" fill="#000000" stroke="#000000">Spearman</text>
<text x="825.39" y="1790.9" font-size="23.45" fill="#000000" stroke="#000000">ρ</text>
<text x="843.95" y="1788.3" font-size="23.45" fill="#000000" stroke="#000000">=</text>
<text x="864.06" y="1788.3" font-size="23.45" fill="#000000" stroke="#000000">-0.84;</text>
<text x="933.49" y="1788.3" font-size="23.45" fill="#000000" stroke="#000000">p = 0.01</text>
<text x="-2.27" y="0" transform="translate(550.9 1695.6) scale(0.91 1)" font-size="34" font-weight="bold" fill="#000" stroke="#000">F</text>
</svg></body></html>
